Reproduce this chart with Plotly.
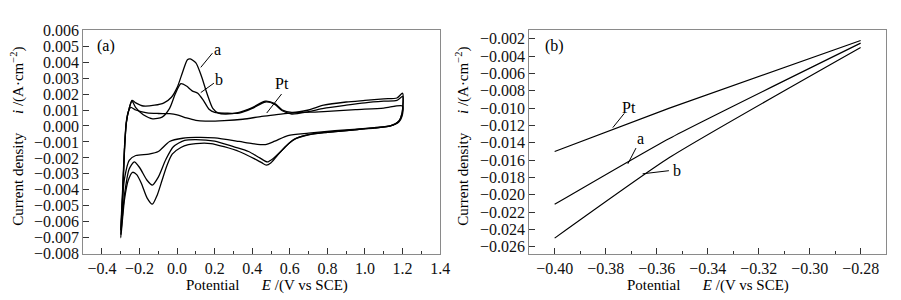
import plotly.graph_objects as go
from plotly.subplots import make_subplots

# ---------------- Panel (a): cyclic voltammograms (E in V, i in mA/cm2 -> converted to A/cm2) -------------
E_a = [-0.30, -0.29, -0.28, -0.27, -0.255, -0.24, -0.22, -0.18, -0.12, -0.07, -0.03, 0.00, 0.03, 0.055, 0.07,
       0.10, 0.13, 0.16, 0.19, 0.22, 0.26, 0.33, 0.40, 0.47, 0.52, 0.56, 0.61, 0.70, 0.78, 0.90, 1.00, 1.10,
       1.17, 1.20,
       1.197, 1.18, 1.135, 1.05, 0.96, 0.84, 0.72, 0.64, 0.58, 0.53, 0.50, 0.475, 0.45, 0.41, 0.33, 0.25,
       0.18, 0.10, 0.06, 0.02, -0.026, -0.055, -0.08, -0.105, -0.132, -0.16, -0.19, -0.215, -0.237, -0.26,
       -0.28, -0.30]
I_a = [-7.0, -4.5, -1.5, 0.2, 1.1, 1.6, 1.45, 1.25, 1.3, 1.45, 1.8, 2.4, 3.4, 4.15, 4.2,
       3.95, 3.1, 2.0, 1.1, 0.8, 0.75, 0.85, 1.15, 1.55, 1.4, 1.0, 0.85, 1.0, 1.3, 1.5, 1.6, 1.7,
       1.75, 2.05,
       0.8, 0.3, 0.0, -0.12, -0.22, -0.35, -0.5, -0.75, -1.25, -1.9, -2.3, -2.45, -2.3, -2.05, -1.6, -1.3,
       -1.1, -1.1, -1.17, -1.35, -1.76, -2.5, -3.4, -4.3, -4.9, -4.5, -3.6, -3.05, -2.9, -3.4,
       -4.6, -7.0]

E_b = [-0.30, -0.29, -0.28, -0.27, -0.255, -0.24, -0.22, -0.18, -0.13, -0.08, -0.04, -0.01, 0.02, 0.05,
       0.08, 0.11, 0.14, 0.17, 0.20, 0.26, 0.33, 0.40, 0.47, 0.52, 0.56, 0.61, 0.70, 0.78, 0.90, 1.00,
       1.10, 1.17, 1.20,
       1.197, 1.18, 1.135, 1.05, 0.96, 0.80, 0.70, 0.62, 0.56, 0.51, 0.48, 0.44, 0.38, 0.30, 0.20, 0.10,
       0.04, -0.02, -0.06, -0.10, -0.132, -0.16, -0.20, -0.228, -0.255, -0.28, -0.30]
I_b = [-6.8, -4.3, -1.5, 0.2, 1.1, 1.55, 1.15, 0.7, 0.45, 0.55, 1.1, 2.0, 2.65, 2.5,
       2.2, 2.05, 1.6, 1.05, 0.85, 0.8, 0.8, 1.1, 1.5, 1.35, 0.95, 0.75, 0.9, 1.1, 1.3, 1.45,
       1.55, 1.6, 1.85,
       0.75, 0.3, 0.0, -0.13, -0.22, -0.4, -0.55, -0.85, -1.5, -2.05, -2.25, -2.0, -1.6, -1.3, -0.95, -0.85,
       -0.9, -1.3, -2.1, -3.2, -3.7, -3.4, -2.6, -2.25, -2.7, -4.3, -6.8]

E_pt = [-0.30, -0.29, -0.28, -0.27, -0.258, -0.246, -0.22, -0.16, -0.10, -0.04, 0.00, 0.05, 0.10, 0.15,
        0.25, 0.35, 0.45, 0.52, 0.60, 0.78, 0.95, 1.10, 1.20,
        1.197, 1.18, 1.135, 1.05, 0.96, 0.84, 0.70, 0.59, 0.52, 0.47, 0.40, 0.33, 0.20, 0.10, 0.03,
        -0.04, -0.10, -0.15, -0.22, -0.255, -0.28, -0.29, -0.30]
I_pt = [-6.5, -4.0, -1.3, 0.3, 0.95, 1.17, 1.0, 0.82, 0.78, 0.77, 0.7, 0.5, 0.35, 0.3,
        0.33, 0.42, 0.6, 0.7, 0.8, 0.9, 1.02, 1.12, 1.25,
        0.6, 0.25, 0.0, -0.1, -0.2, -0.3, -0.45, -0.6, -0.95, -1.17, -1.1, -0.97, -0.75, -0.72, -0.77,
        -0.97, -1.6, -1.76, -1.85, -2.15, -3.3, -4.5, -6.5]

# ---------------- Panel (b): polarisation lines -------------
E_lin = [-0.40, -0.355, -0.28]
I_lin_pt = [-0.0150, -0.0100, -0.0022]
I_lin_a = [-0.0211, -0.0135, -0.0025]
I_lin_b = [-0.0250, -0.0157, -0.0030]

# labels: (text, x, y, line-x0, line-y0, line-x1, line-y1)
labels_a = [("a", 0.214, 0.0048, 0.126, 0.00367, 0.188, 0.00456),
            ("b", 0.223, 0.00288, 0.126, 0.00209, 0.196, 0.00268),
            ("Pt", 0.556, 0.00268, 0.477, 0.00081, 0.556, 0.0020)]
labels_b = [("Pt", -0.3707, -0.0099, -0.3772, -0.01225, -0.3727, -0.01061),
            ("a", -0.3662, -0.01352, -0.3713, -0.01643, -0.3681, -0.01461),
            ("b", -0.3520, -0.01722, -0.3655, -0.01758, -0.3552, -0.01722)]

FONT = "Liberation Serif"

fig = make_subplots(rows=1, cols=2)

for E, I in [(E_a, I_a), (E_b, I_b), (E_pt, I_pt)]:
    fig.add_trace(go.Scatter(x=E, y=[v * 1e-3 for v in I], mode="lines",
                             line=dict(color="black", width=1.3, shape="spline", smoothing=0.7),
                             showlegend=False, hoverinfo="skip"), row=1, col=1)

for I in [I_lin_pt, I_lin_a, I_lin_b]:
    fig.add_trace(go.Scatter(x=E_lin, y=I, mode="lines",
                             line=dict(color="black", width=1.2, shape="spline", smoothing=0.5),
                             showlegend=False, hoverinfo="skip"), row=1, col=2)

axis_common = dict(showline=True, linecolor="#8a8a8a", linewidth=1, mirror=True,
                   ticks="inside", ticklen=6, tickwidth=1, tickcolor="#333",
                   showgrid=False, zeroline=False,
                   tickfont=dict(family=FONT, size=16, color="#111"))

fig.update_layout(
    width=901, height=300, margin=dict(l=0, r=0, t=0, b=0),
    paper_bgcolor="white", plot_bgcolor="white",
    xaxis=dict(domain=[76 / 901, 437 / 901], range=[-0.5, 1.4], tick0=-0.4, dtick=0.2,
               tickformat=".1f", minor=dict(ticks="inside", ticklen=3, dtick=0.1, tick0=-0.4,
                                            tickcolor="#333"), **axis_common),
    yaxis=dict(domain=[48 / 300, 285 / 300], range=[-0.008, 0.006], dtick=0.001,
               tickformat=".3f", **axis_common),
    xaxis2=dict(domain=[527 / 901, 888 / 901], range=[-0.41, -0.27], tick0=-0.40, dtick=0.02,
                tickformat=".2f", minor=dict(ticks="inside", ticklen=3, dtick=0.01, tick0=-0.40,
                                             tickcolor="#333"), **axis_common),
    yaxis2=dict(domain=[48 / 300, 285 / 300], range=[-0.0268, -0.001], tick0=-0.002, dtick=0.002,
                tickformat=".3f", **axis_common),
)

ann = []
shapes = []
for (t, x, y, x0, y0, x1, y1), (xr, yr) in [(l, ("x", "y")) for l in labels_a] + \
        [(l, ("x2", "y2")) for l in labels_b]:
    ann.append(dict(text=t, x=x, y=y, xref=xr, yref=yr, showarrow=False,
                    xanchor="center", yanchor="middle",
                    font=dict(family=FONT, size=16, color="black")))
    shapes.append(dict(type="line", x0=x0, y0=y0, x1=x1, y1=y1, xref=xr, yref=yr,
                       line=dict(color="black", width=1)))

# panel tags
for cx, tag in [(99 / 901, "(a)"), (553 / 901, "(b)")]:
    ann.append(dict(text=tag, x=cx, y=1 - 32 / 300, xref="paper", yref="paper", showarrow=False,
                    xanchor="center", yanchor="middle",
                    font=dict(family=FONT, size=16, color="black")))

# axis titles
xtitle = "Potential&nbsp;&nbsp;&nbsp;&nbsp;&nbsp;&nbsp;<i>E</i> /(V vs SCE)"
ytitle = "Current density&nbsp;&nbsp;&nbsp;&nbsp;&nbsp;<i>i</i> /(A·cm<sup>−2</sup>)"
for cx in [262 / 901, 708 / 901]:
    ann.append(dict(text=xtitle, x=cx, y=1 - 286 / 300, xref="paper", yref="paper", showarrow=False,
                    xanchor="center", yanchor="middle",
                    font=dict(family=FONT, size=15, color="black")))
for cx in [10 / 901, 460 / 901]:
    ann.append(dict(text=ytitle, x=cx, y=1 - 127 / 300, xref="paper", yref="paper", showarrow=False,
                    xanchor="center", yanchor="middle",
                    textangle=-90, font=dict(family=FONT, size=15, color="black")))

fig.update_layout(annotations=ann, shapes=shapes)
fig.write_html("out.html")
